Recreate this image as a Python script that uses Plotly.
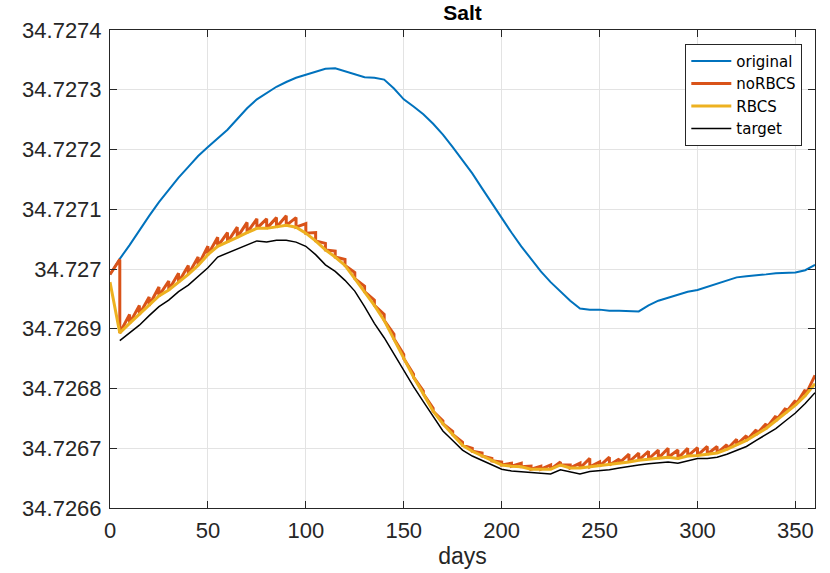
import plotly.graph_objects as go

# ---------------- data ----------------
days = list(range(0, 361, 5))

original = [
    34.726991, 34.727017, 34.727040, 34.727065, 34.727089, 34.727112, 34.727133, 34.727153,
    34.727171, 34.727189, 34.727204, 34.727218, 34.727233, 34.727251, 34.727269, 34.727284,
    34.727294, 34.727305, 34.727313, 34.727320, 34.727325, 34.727330, 34.727335, 34.727336,
    34.727331, 34.727325, 34.727321, 34.727320, 34.727317, 34.727302, 34.727284, 34.727272,
    34.727259, 34.727243, 34.727225, 34.727204, 34.727182, 34.727160, 34.727135, 34.727110,
    34.727086, 34.727061, 34.727038, 34.727016, 34.726996, 34.726978, 34.726962, 34.726947,
    34.726934, 34.726932, 34.726932, 34.726930, 34.726930, 34.726930, 34.726929, 34.726939,
    34.726947, 34.726952, 34.726957, 34.726962, 34.726965, 34.726970, 34.726975, 34.726981,
    34.726986, 34.726988, 34.726989, 34.726991, 34.726993, 34.726993, 34.726994, 34.726998,
    34.727007,
]

rbcs = [
    34.726978, 34.726893, 34.726909, 34.726924, 34.726939, 34.726955, 34.726965, 34.726978,
    34.726991, 34.727006, 34.727024, 34.727038, 34.727045, 34.727053, 34.727061, 34.727068,
    34.727068, 34.727070, 34.727073, 34.727070, 34.727060, 34.727047, 34.727032, 34.727020,
    34.727006, 34.726984, 34.726962, 34.726939, 34.726914, 34.726883, 34.726850, 34.726819,
    34.726791, 34.726762, 34.726741, 34.726723, 34.726705, 34.726695, 34.726687, 34.726679,
    34.726672, 34.726670, 34.726669, 34.726665, 34.726665, 34.726665, 34.726672, 34.726667,
    34.726667, 34.726669, 34.726670, 34.726672, 34.726675, 34.726677, 34.726680, 34.726682,
    34.726683, 34.726685, 34.726683, 34.726687, 34.726688, 34.726690, 34.726692, 34.726698,
    34.726706, 34.726713, 34.726723, 34.726733, 34.726746, 34.726759, 34.726772, 34.726788,
    34.726808,
]

target_days = list(range(5, 361, 5))
target = [
    34.726880, 34.726893, 34.726906, 34.726922, 34.726937, 34.726948, 34.726962, 34.726973,
    34.726988, 34.727002, 34.727020, 34.727027, 34.727034, 34.727040, 34.727047, 34.727045,
    34.727048, 34.727048, 34.727045, 34.727038, 34.727024, 34.727007, 34.726996, 34.726981,
    34.726963, 34.726937, 34.726909, 34.726885, 34.726857, 34.726831, 34.726803, 34.726778,
    34.726754, 34.726729, 34.726713, 34.726697, 34.726687, 34.726680, 34.726672, 34.726665,
    34.726662, 34.726661, 34.726659, 34.726659, 34.726657, 34.726664, 34.726661, 34.726657,
    34.726661, 34.726662, 34.726664, 34.726667, 34.726670, 34.726672, 34.726674, 34.726675,
    34.726677, 34.726675, 34.726679, 34.726683, 34.726683, 34.726685, 34.726690, 34.726697,
    34.726703, 34.726713, 34.726723, 34.726733, 34.726746, 34.726759, 34.726775, 34.726793,
]

# noRBCS: start value, then value just before each 5-day reset (peak) and just after (trough)
norbcs_start = 34.726991
norbcs_peak_days = list(range(5, 361, 5))
norbcs_peak = [
    34.727016, 34.726924, 34.726939, 34.726953, 34.726970, 34.726980, 34.726993, 34.727006,
    34.727020, 34.727038, 34.727053, 34.727061, 34.727070, 34.727078, 34.727084, 34.727084,
    34.727086, 34.727089, 34.727086, 34.727076, 34.727061, 34.727043, 34.727030, 34.727016,
    34.726994, 34.726971, 34.726948, 34.726924, 34.726891, 34.726857, 34.726824, 34.726796,
    34.726767, 34.726746, 34.726728, 34.726710, 34.726700, 34.726692, 34.726683, 34.726677,
    34.726675, 34.726675, 34.726670, 34.726670, 34.726672, 34.726677, 34.726672, 34.726675,
    34.726683, 34.726677, 34.726685, 34.726682, 34.726690, 34.726692, 34.726695, 34.726697,
    34.726700, 34.726697, 34.726700, 34.726701, 34.726703, 34.726703, 34.726706, 34.726715,
    34.726721, 34.726731, 34.726741, 34.726754, 34.726767, 34.726780, 34.726798, 34.726822,
]
norbcs_trough = [
    34.726893, 34.726909, 34.726924, 34.726939, 34.726955, 34.726965, 34.726978, 34.726991,
    34.727006, 34.727024, 34.727038, 34.727045, 34.727053, 34.727061, 34.727068, 34.727068,
    34.727070, 34.727073, 34.727070, 34.727060, 34.727047, 34.727032, 34.727020, 34.727006,
    34.726984, 34.726962, 34.726939, 34.726914, 34.726883, 34.726850, 34.726819, 34.726791,
    34.726762, 34.726741, 34.726723, 34.726705, 34.726695, 34.726687, 34.726679, 34.726672,
    34.726670, 34.726669, 34.726665, 34.726665, 34.726665, 34.726672, 34.726667, 34.726667,
    34.726669, 34.726670, 34.726672, 34.726675, 34.726677, 34.726680, 34.726682, 34.726683,
    34.726685, 34.726683, 34.726687, 34.726688, 34.726690, 34.726692, 34.726698, 34.726706,
    34.726713, 34.726723, 34.726733, 34.726746, 34.726759, 34.726772, 34.726788,
]

x_ticks = [0, 50, 100, 150, 200, 250, 300, 350]
y_ticks = [34.7266, 34.7267, 34.7268, 34.7269, 34.7270, 34.7271, 34.7272, 34.7273, 34.7274]
y_ticktext = ["34.7266", "34.7267", "34.7268", "34.7269", "34.727",
              "34.7271", "34.7272", "34.7273", "34.7274"]

# build noRBCS zig-zag path
nx, ny = [0], [norbcs_start]
for i, d in enumerate(norbcs_peak_days):
    nx.append(d); ny.append(norbcs_peak[i])
    if i < len(norbcs_trough):
        nx.append(d); ny.append(norbcs_trough[i])

TICKFONT = "Liberation Sans"
AX = "#262626"

fig = go.Figure()
fig.add_trace(go.Scatter(x=days, y=original, mode="lines", name="original",
                         line=dict(color="#0072BD", width=2)))
fig.add_trace(go.Scatter(x=nx, y=ny, mode="lines", name="noRBCS",
                         line=dict(color="#D95319", width=3)))
fig.add_trace(go.Scatter(x=days, y=rbcs, mode="lines", name="RBCS",
                         line=dict(color="#EDB120", width=3)))
fig.add_trace(go.Scatter(x=target_days, y=target, mode="lines", name="target",
                         line=dict(color="black", width=1.5)))

axis_common = dict(showline=True, linecolor=AX, linewidth=1, mirror="ticks",
                   ticks="inside", ticklen=7, tickcolor=AX, showgrid=True,
                   gridcolor="#e3e3e3", gridwidth=1, zeroline=False,
                   ticklabelstandoff=3,
                   tickfont=dict(family=TICKFONT, size=22, color=AX))

fig.update_layout(
    width=830, height=573,
    margin=dict(l=110, r=15, t=30, b=54),
    paper_bgcolor="white", plot_bgcolor="white",
    title=dict(text="<b>Salt</b>", x=0.5, xref="paper", xanchor="center",
               y=1 - 13 / 573, yref="container", yanchor="middle",
               font=dict(family="Liberation Sans", size=21, color="black")),
    xaxis=dict(range=[0, 360], tickvals=x_ticks,
               title=dict(text="days", font=dict(family=TICKFONT, size=23, color=AX), standoff=1),
               **axis_common),
    yaxis=dict(range=[34.7266, 34.7274], tickvals=y_ticks, ticktext=y_ticktext,
               **axis_common),
    legend=dict(x=0.982, y=0.971, xanchor="right", yanchor="top",
                bgcolor="white", bordercolor=AX, borderwidth=1,
                font=dict(family="DejaVu Sans", size=15, color="black"),
                tracegroupgap=0, itemwidth=40),
    showlegend=True,
)

fig.write_html("out.html")
